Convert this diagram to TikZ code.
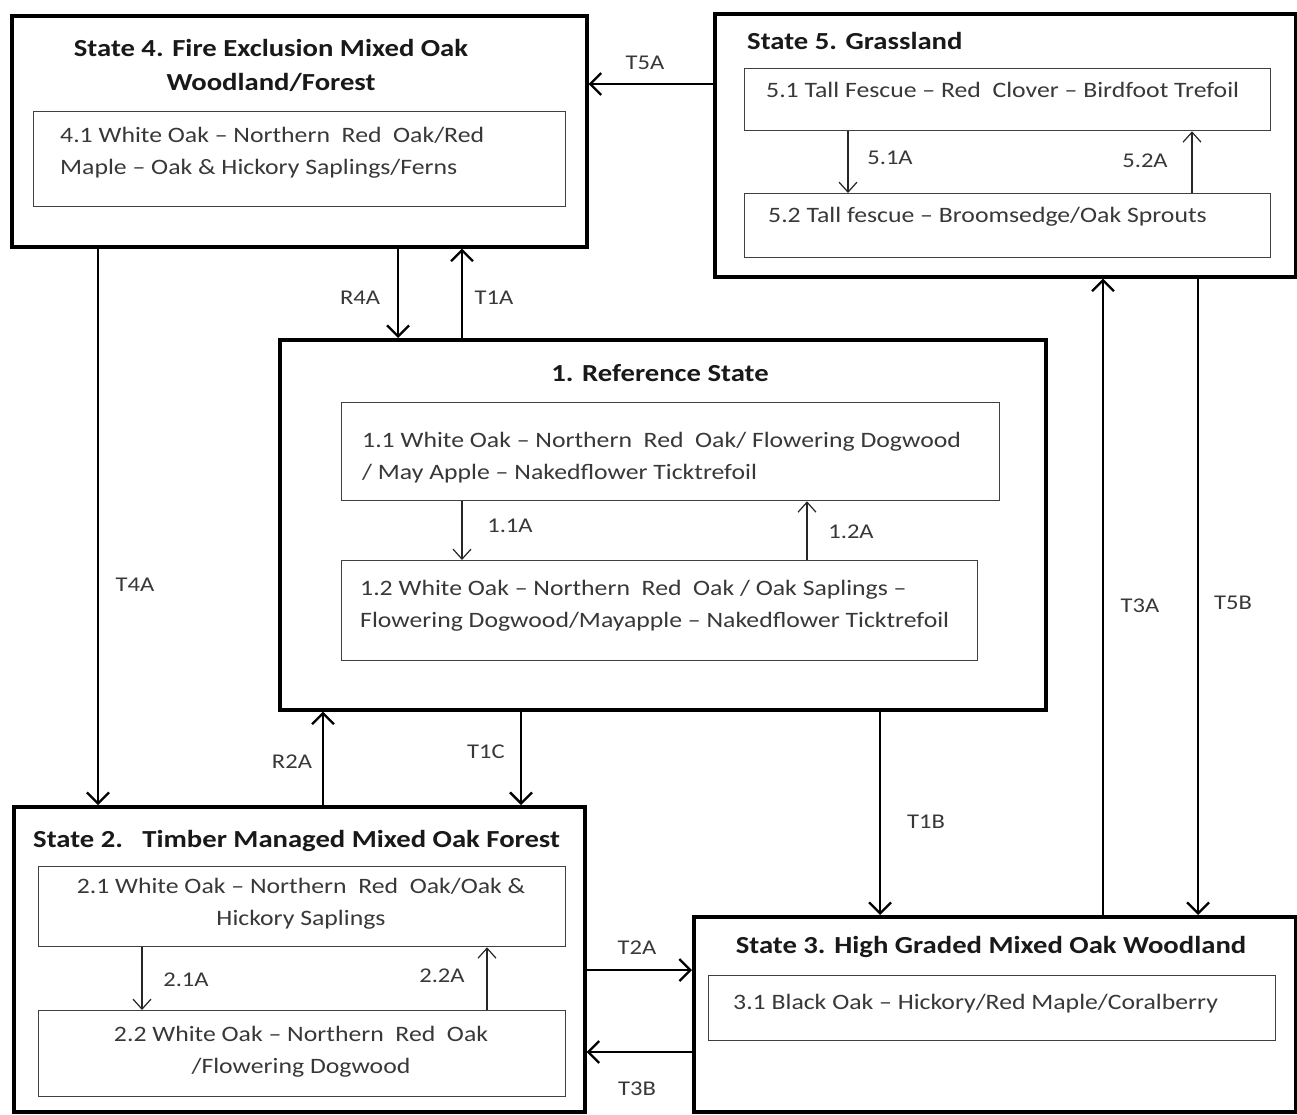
\documentclass[tikz,border=0pt]{standalone}
\usepackage{fontspec}
\setmainfont{Carlito}[FakeStretch=1.17]
\usetikzlibrary{arrows.meta}
\newcommand\ttlfont{\fontsize{24.5}{34}\selectfont\bfseries}
\newcommand\bdyfont{\fontsize{22}{32}\selectfont}
\newcommand\lblfont{\fontsize{21}{24}\selectfont}
\begin{document}
\begin{tikzpicture}[x=1pt,y=-1pt,
  outerbox/.style={draw=black, line width=3.6pt, anchor=north west, inner sep=0pt},
  innerbox/.style={draw=black!75, line width=1.3pt, anchor=north west, inner sep=0pt},
  ttl/.style={font=\ttlfont, text=black!90, inner sep=0pt},
  bdy/.style={font=\bdyfont, text=black!78, inner sep=0pt},
  lbl/.style={font=\lblfont, text=black!78, inner sep=0pt},
  bigarrow/.style={line width=2.3pt, -{Straight Barb[length=11pt,width=22pt,line width=2.3pt]}},
  smallarrow/.style={line width=1.2pt, draw=black!85, -{Straight Barb[length=10pt,width=18pt,line width=1.2pt]}}
]
\useasboundingbox (0,0) rectangle (1297,1115);
\fill[white] (0,0) rectangle (1297,1115);

% ---------- State 4 ----------
\node[outerbox, minimum width=575pt, minimum height=231pt] (s4) at (10,14) {};
\node[ttl, align=center] (s4t) at (271,65) {State 4. Fire Exclusion Mixed Oak\\Woodland/Forest};
\node[innerbox, minimum width=532pt, minimum height=95pt] (b41) at (33,111) {};
\node[bdy, align=left, anchor=west] (t41) at (60,153) {4.1 White Oak -- Northern\ \ Red\ \ Oak/Red\\Maple -- Oak \& Hickory Saplings/Ferns};

% ---------- State 5 ----------
\node[outerbox, minimum width=581pt, minimum height=263pt] (s5) at (713,12) {};
\node[ttl, anchor=west] (s5t) at (747,41) {State 5. Grassland};
\node[innerbox, minimum width=526pt, minimum height=62pt] (b51) at (744,68) {};
\node[bdy, anchor=west] (t51) at (766,90) {5.1 Tall Fescue -- Red\ \ Clover -- Birdfoot Trefoil};
\node[innerbox, minimum width=526pt, minimum height=64pt] (b52) at (744,193) {};
\node[bdy, anchor=west] (t52) at (768,217) {5.2 Tall fescue -- Broomsedge/Oak Sprouts};

% ---------- State 1 ----------
\node[outerbox, minimum width=766pt, minimum height=370pt] (s1) at (278,338) {};
\node[ttl, anchor=center] (s1t) at (660,373) {1. Reference State};
\node[innerbox, minimum width=658pt, minimum height=98pt] (b11) at (341,402) {};
\node[bdy, align=left, anchor=west] (t11) at (362,458) {1.1 White Oak -- Northern\ \ Red\ \ Oak/ Flowering Dogwood\\/ May Apple -- Nakedflower Ticktrefoil};
\node[innerbox, minimum width=636pt, minimum height=100pt] (b12) at (341,560) {};
\node[bdy, align=left, anchor=west] (t12) at (360,606) {1.2 White Oak -- Northern\ \ Red\ \ Oak / Oak Saplings --\\Flowering Dogwood/Mayapple -- Nakedflower Ticktrefoil};

% ---------- State 2 ----------
\node[outerbox, minimum width=571pt, minimum height=305pt] (s2) at (12,805) {};
\node[ttl, anchor=west] (s2t) at (33,841) {State 2.\ \ \ Timber Managed Mixed Oak Forest};
\node[innerbox, minimum width=527pt, minimum height=80pt] (b21) at (38,866) {};
\node[bdy, align=center] (t21) at (301,904) {2.1 White Oak -- Northern\ \ Red\ \ Oak/Oak \&\\Hickory Saplings};
\node[innerbox, minimum width=527pt, minimum height=86pt] (b22) at (38,1010) {};
\node[bdy, align=center] (t22) at (301,1052) {2.2 White Oak -- Northern\ \ Red\ \ Oak\\/Flowering Dogwood};

% ---------- State 3 ----------
\node[outerbox, minimum width=602pt, minimum height=195pt] (s3) at (692,915) {};
\node[ttl, anchor=center] (s3t) at (991,947) {State 3. High Graded Mixed Oak Woodland};
\node[innerbox, minimum width=567pt, minimum height=65pt] (b31) at (708,975) {};
\node[bdy, anchor=west] (t31) at (733,1004) {3.1 Black Oak -- Hickory/Red Maple/Coralberry};

% ---------- x / y positions of connectors ----------
\coordinate (yT5A) at (0,84);
\coordinate (xR4A) at (398,0);
\coordinate (xT1A) at (462,0);
\coordinate (xT4A) at (98,0);
\coordinate (xR2A) at (323,0);
\coordinate (xT1C) at (521,0);
\coordinate (xT1B) at (880,0);
\coordinate (xT3A) at (1103,0);
\coordinate (xT5B) at (1198,0);
\coordinate (yT2A) at (0,970);
\coordinate (yT3B) at (0,1052);
\coordinate (x51A) at (848,0);
\coordinate (x52A) at (1192,0);
\coordinate (x11A) at (462,0);
\coordinate (x12A) at (807,0);
\coordinate (x21A) at (142,0);
\coordinate (x22A) at (487,0);

% ---------- connectors between states ----------
\draw[bigarrow] (s5.west |- yT5A) -- (s4.east |- yT5A);
\draw[bigarrow] (s4.south -| xR4A) -- (s1.north -| xR4A);
\draw[bigarrow] (s1.north -| xT1A) -- (s4.south -| xT1A);
\draw[bigarrow] (s4.south -| xT4A) -- (s2.north -| xT4A);
\draw[bigarrow] (s2.north -| xR2A) -- (s1.south -| xR2A);
\draw[bigarrow] (s1.south -| xT1C) -- (s2.north -| xT1C);
\draw[bigarrow] (s1.south -| xT1B) -- (s3.north -| xT1B);
\draw[bigarrow] (s3.north -| xT3A) -- (s5.south -| xT3A);
\draw[bigarrow] (s5.south -| xT5B) -- (s3.north -| xT5B);
\draw[bigarrow] (s2.east |- yT2A) -- (s3.west |- yT2A);
\draw[bigarrow] (s3.west |- yT3B) -- (s2.east |- yT3B);

% ---------- connectors inside states ----------
\draw[smallarrow] (b51.south -| x51A) -- (b52.north -| x51A);
\draw[smallarrow] (b52.north -| x52A) -- (b51.south -| x52A);
\draw[smallarrow] (b11.south -| x11A) -- (b12.north -| x11A);
\draw[smallarrow] (b12.north -| x12A) -- (b11.south -| x12A);
\draw[smallarrow] (b21.south -| x21A) -- (b22.north -| x21A);
\draw[smallarrow] (b22.north -| x22A) -- (b21.south -| x22A);

% ---------- labels ----------
\node[lbl] (lT5A) at (645,63) {T5A};
\node[lbl] (lR4A) at (360,298) {R4A};
\node[lbl] (lT1A) at (494,298) {T1A};
\node[lbl] (lT4A) at (135,585) {T4A};
\node[lbl] (lR2A) at (292,762) {R2A};
\node[lbl] (lT1C) at (486,752) {T1C};
\node[lbl] (lT1B) at (926,822) {T1B};
\node[lbl] (lT3A) at (1140,606) {T3A};
\node[lbl] (lT5B) at (1233,603) {T5B};
\node[lbl] (lT2A) at (637,948) {T2A};
\node[lbl] (lT3B) at (637,1089) {T3B};
\node[lbl] (l51A) at (890,158) {5.1A};
\node[lbl] (l52A) at (1145,161) {5.2A};
\node[lbl] (l11A) at (510,526) {1.1A};
\node[lbl] (l12A) at (851,532) {1.2A};
\node[lbl] (l21A) at (186,980) {2.1A};
\node[lbl] (l22A) at (442,976) {2.2A};
\end{tikzpicture}
\end{document}
